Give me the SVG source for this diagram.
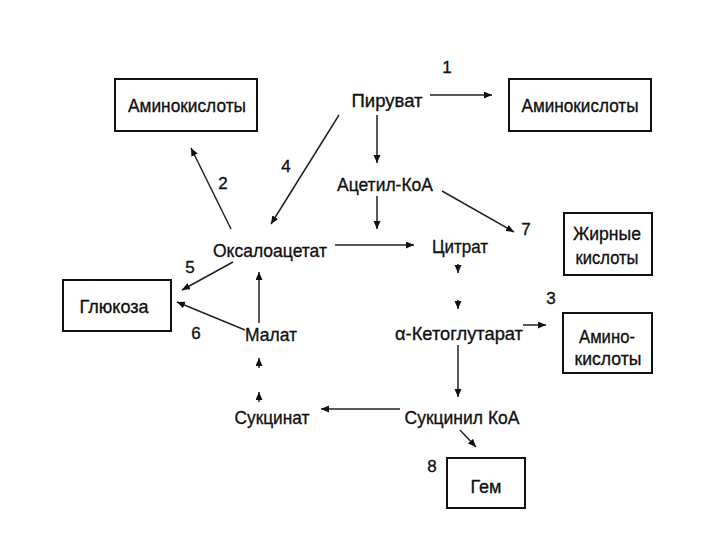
<svg xmlns="http://www.w3.org/2000/svg" width="720" height="540" viewBox="0 0 720 540">
<style>
text{font-family:"Liberation Sans",Arial,sans-serif;font-size:19px;fill:#111;stroke:#111;stroke-width:0.35;text-anchor:middle}
.n{font-size:17px}
.box{fill:#fff;stroke:#111;stroke-width:2}
.c line{stroke:#222;stroke-width:1.5;marker-end:url(#ah)}
</style>
<defs>
<marker id="ah" markerUnits="userSpaceOnUse" markerWidth="9" markerHeight="8" refX="8" refY="3.5" orient="auto">
<path d="M0,0 L8,3.5 L0,7 z" fill="#111"/>
</marker>
</defs>
<rect width="720" height="540" fill="#fff"/>
<g class="c" id="connectors">
<line x1="430" y1="95" x2="492" y2="95"/>
<line x1="231" y1="229" x2="191" y2="148"/>
<line x1="523" y1="325" x2="546" y2="325"/>
<line x1="339" y1="115" x2="271" y2="224"/>
<line x1="233" y1="262" x2="182" y2="290"/>
<line x1="245" y1="330" x2="177" y2="302"/>
<line x1="442" y1="191" x2="514" y2="232"/>
<line x1="460" y1="430" x2="476" y2="447"/>
<line x1="377" y1="115" x2="377" y2="163"/>
<line x1="377" y1="196" x2="377" y2="229"/>
<line x1="335" y1="245" x2="414" y2="245"/>
<line x1="458" y1="264" x2="458" y2="273"/>
<line x1="458" y1="300" x2="458" y2="309"/>
<line x1="458" y1="345" x2="458" y2="397"/>
<line x1="400" y1="409" x2="321" y2="409"/>
<line x1="259" y1="402" x2="259" y2="392"/>
<line x1="259" y1="368" x2="259" y2="358"/>
<line x1="259" y1="323" x2="259" y2="272"/>
</g>
<g id="amino1"><rect class="box" x="115" y="79" width="142" height="52"/><text x="187" y="112" textLength="118" lengthAdjust="spacingAndGlyphs">Аминокислоты</text></g>
<g id="pyruvate"><text x="387" y="107" textLength="71" lengthAdjust="spacingAndGlyphs">Пируват</text></g>
<g id="amino2"><rect class="box" x="509" y="79" width="142" height="52"/><text x="580" y="112" textLength="117" lengthAdjust="spacingAndGlyphs">Аминокислоты</text></g>
<g id="acetyl"><text x="385" y="191" textLength="96" lengthAdjust="spacingAndGlyphs">Ацетил-КоА</text></g>
<g id="fatty"><rect class="box" x="564" y="213" width="88" height="62"/><text x="607" y="240" textLength="68" lengthAdjust="spacingAndGlyphs">Жирные</text><text x="607" y="264" textLength="63" lengthAdjust="spacingAndGlyphs">кислоты</text></g>
<g id="citrate"><text x="460" y="253" textLength="56" lengthAdjust="spacingAndGlyphs">Цитрат</text></g>
<g id="oxalo"><text x="270" y="257" textLength="114" lengthAdjust="spacingAndGlyphs">Оксалоацетат</text></g>
<g id="glucose"><rect class="box" x="63" y="280" width="108" height="51"/><text x="114" y="313" textLength="69" lengthAdjust="spacingAndGlyphs">Глюкоза</text></g>
<g id="malate"><text x="271" y="341" textLength="52" lengthAdjust="spacingAndGlyphs">Малат</text></g>
<g id="akg"><text x="459" y="340" textLength="128" lengthAdjust="spacingAndGlyphs">α-Кетоглутарат</text></g>
<g id="amino3"><rect class="box" x="563" y="313" width="89" height="60"/><text x="607" y="343" textLength="56" lengthAdjust="spacingAndGlyphs">Амино-</text><text x="608" y="365" textLength="67" lengthAdjust="spacingAndGlyphs">кислоты</text></g>
<g id="succinate"><text x="272" y="424" textLength="75" lengthAdjust="spacingAndGlyphs">Сукцинат</text></g>
<g id="succoa"><text x="462" y="424" textLength="115" lengthAdjust="spacingAndGlyphs">Сукцинил КоА</text></g>
<g id="heme"><rect class="box" x="447" y="458" width="78" height="50"/><text x="486" y="493" textLength="31" lengthAdjust="spacingAndGlyphs">Гем</text></g>
<g id="labels">
<text class="n" x="447" y="73">1</text>
<text class="n" x="223" y="189">2</text>
<text class="n" x="551" y="304">3</text>
<text class="n" x="286" y="172">4</text>
<text class="n" x="190" y="273">5</text>
<text class="n" x="196" y="339">6</text>
<text class="n" x="526" y="235">7</text>
<text class="n" x="432" y="472">8</text>
</g>
</svg>
